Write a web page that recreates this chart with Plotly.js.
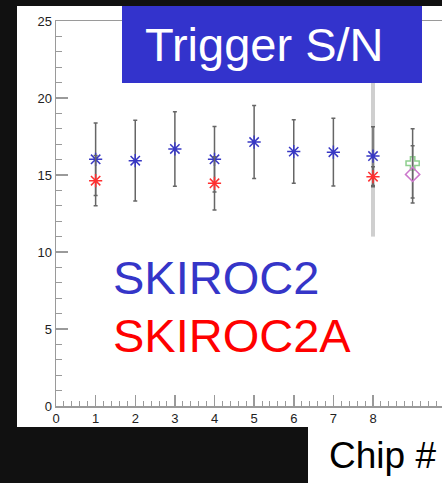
<!DOCTYPE html>
<html>
<head>
<meta charset="utf-8">
<script src="https://cdn.plot.ly/plotly-3.0.1.min.js"></script>
<style>
html,body{margin:0;padding:0;background:#111;}
#chart{width:442px;height:483px;}
</style>
</head>
<body>
<div id="chart"></div>
<script>
// ---- data ----
const chipsA = [1, 2, 3, 4, 5, 6, 7, 8];
const skiroc2 = [16.02, 15.93, 16.69, 16.02, 17.14, 16.52, 16.48, 16.23];
const skiroc2Err = [2.35, 2.62, 2.42, 2.13, 2.37, 2.06, 2.2, 1.91];

const chipsB = [1, 4, 8];
const skiroc2a = [14.63, 14.46, 14.89];
const skiroc2aErr = [1.63, 1.73, 0.65];

const chipsWide = [8];
const wideVal = [16.0];
const wideErr = [5.0];

const chipsExtra = [9];
const greenVal = [15.76];
const greenErr = [2.25];
const pinkVal = [15.04];
const pinkErr = [1.86];

const xTicks = [0, 1, 2, 3, 4, 5, 6, 7, 8];
const yTicks = [0, 5, 10, 15, 20, 25];

// ---- layout helpers (pixel -> paper) ----
const L = 56, R = 442, T = 21, B = 406;
const px = p => (p - L) / (R - L);
const py = p => (B - p) / (B - T);

const FONT = 'Liberation Sans, Arial, Helvetica, sans-serif';
const errStyle = (arr, color, thick, w) => ({type: 'data', array: arr, color: color, thickness: thick, width: w});

const traces = [
  {x: chipsWide, y: wideVal, mode: 'markers', marker: {size: 1, color: 'rgba(0,0,0,0)'},
   error_y: errStyle(wideErr, '#cfcfcf', 4, 0), hoverinfo: 'skip'},
  {x: chipsA, y: skiroc2, mode: 'markers', name: 'SKIROC2',
   marker: {symbol: 'asterisk-open', size: 11, color: '#3838c4', line: {width: 1.5, color: '#3838c4'}},
   error_y: errStyle(skiroc2Err, '#666666', 1.5, 2)},
  {x: chipsB, y: skiroc2a, mode: 'markers', name: 'SKIROC2A',
   marker: {symbol: 'asterisk-open', size: 11, color: '#ff3030', line: {width: 1.5, color: '#ff3030'}},
   error_y: errStyle(skiroc2aErr, '#666666', 1.5, 2)},
  {x: chipsExtra, y: greenVal, mode: 'markers',
   marker: {symbol: 'cross-open', size: 11, color: '#8fcf8f', line: {width: 1.5, color: '#8fcf8f'}},
   error_y: errStyle(greenErr, '#666666', 1.5, 2)},
  {x: chipsExtra, y: pinkVal, mode: 'markers',
   marker: {symbol: 'diamond-open', size: 11, color: '#cc77cc', line: {width: 1.5, color: '#cc77cc'}},
   error_y: errStyle(pinkErr, '#666666', 1.5, 2)}
];

const axisCommon = {
  showgrid: false, zeroline: false, showline: true, linecolor: '#9a9a9a', linewidth: 1.5,
  ticks: 'inside', tickcolor: '#9a9a9a', tickwidth: 1.5,
  tickfont: {family: FONT, size: 13, color: '#222'}
};

const layout = {
  width: 442, height: 483,
  margin: {l: L, r: 442 - R, t: T, b: 483 - B, pad: 0},
  paper_bgcolor: '#111', plot_bgcolor: '#ffffff',
  showlegend: false,
  xaxis: Object.assign({}, axisCommon, {
    range: [0, (R - L) / 39.625], tickmode: 'array', tickvals: xTicks, ticktext: xTicks.map(String),
    ticklen: 11, mirror: true,
    minor: {dtick: 0.2, tick0: 0, ticks: 'inside', ticklen: 5, tickcolor: '#9a9a9a', tickwidth: 1, showgrid: false}
  }),
  yaxis: Object.assign({}, axisCommon, {
    range: [0, 25], tickmode: 'array', tickvals: yTicks, ticktext: yTicks.map(String),
    ticklen: 12, mirror: false,
    minor: {dtick: 1, tick0: 0, ticks: 'inside', ticklen: 6, tickcolor: '#9a9a9a', tickwidth: 1, showgrid: false}
  }),
  shapes: [
    {type: 'rect', xref: 'paper', yref: 'paper', layer: 'below', x0: px(17), x1: px(442), y0: py(427), y1: py(6),
     fillcolor: '#ffffff', line: {width: 0}},
    {type: 'rect', xref: 'paper', yref: 'paper', layer: 'below', x0: px(308), x1: px(442), y0: py(483), y1: py(427),
     fillcolor: '#ffffff', line: {width: 0}},
    {type: 'rect', xref: 'paper', yref: 'paper', layer: 'above', x0: px(122), x1: px(422), y0: py(83), y1: py(6),
     fillcolor: '#3333cc', line: {width: 0}}
  ],
  annotations: [
    {text: 'Trigger S/N', xref: 'paper', yref: 'paper', x: px(264), y: py(44.5), xanchor: 'center', yanchor: 'middle',
     showarrow: false, font: {family: FONT, size: 47, color: '#ffffff'}},
    {text: 'SKIROC2', xref: 'paper', yref: 'paper', x: px(111), y: py(277.5), xanchor: 'left', yanchor: 'middle',
     showarrow: false, font: {family: FONT, size: 47, color: '#3535c8'}},
    {text: 'SKIROC2A', xref: 'paper', yref: 'paper', x: px(111), y: py(335.5), xanchor: 'left', yanchor: 'middle',
     showarrow: false, font: {family: FONT, size: 47, color: '#ff0000'}},
    {text: 'Chip #', xref: 'paper', yref: 'paper', x: px(382), y: py(455), xanchor: 'center', yanchor: 'middle',
     showarrow: false, font: {family: FONT, size: 37, color: '#000000'}}
  ]
};

Plotly.newPlot('chart', traces, layout, {staticPlot: true, displayModeBar: false});
</script>
</body>
</html>
